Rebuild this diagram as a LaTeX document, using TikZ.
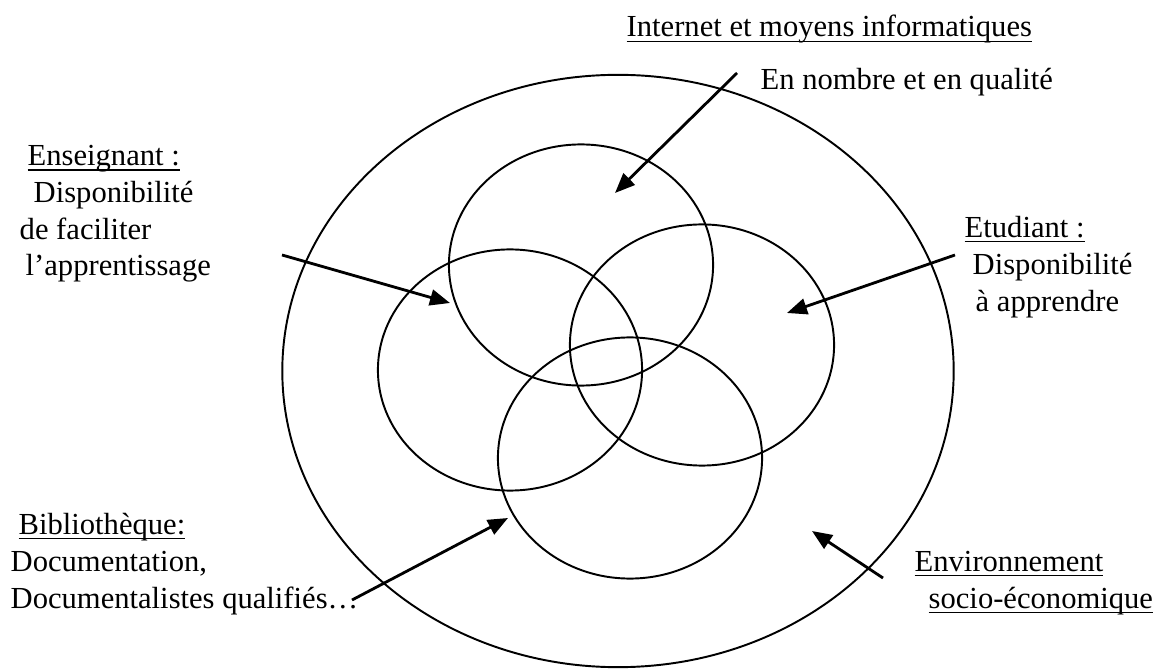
\documentclass[tikz,border=0pt]{standalone}
\usepackage{fontspec}
\setmainfont{Liberation Serif}
\newsavebox{\uwordbox}
\newcommand{\uword}[1]{\sbox{\uwordbox}{#1}\leavevmode\rlap{\rule[-1.5pt]{\wd\uwordbox}{0.4pt}}\usebox{\uwordbox}}
\usetikzlibrary{arrows.meta,shapes.geometric}
\tikzset{
  ring/.style={draw=black, ellipse, line width=0.55pt, inner sep=0pt, minimum width=2.64cm, minimum height=2.41cm},
  outerring/.style={ring, minimum width=6.71cm, minimum height=5.92cm},
  note/.style={align=left, inner sep=0pt, anchor=base west, font=\fontsize{8.7}{10.5}\selectfont},
  arrow/.style={-{Triangle[length=2mm,width=1.6mm]}, line width=0.8pt}
}
\begin{document}
\begin{tikzpicture}[x=0.01cm, y=-0.01cm]
  \useasboundingbox (0,0) rectangle (1163,670);
  \node[outerring] (env) at (618,371) {};
  \node[ring] (internet) at (581,265) {};
  \node[ring] (teacher) at (510,370) {};
  \node[ring] (student) at (702,345) {};
  \node[ring] (library) at (630,458) {};
  \node[note] (nettitle) at (626,37) {\uword{Internet et moyens informatiques}};
  \node[note] (nettext) at (760,90) {En nombre et en qualité};
  \node[note] (teachertext) at (19,276) {\hspace*{0.8mm}\uword{Enseignant :}\\\hspace*{1.4mm}Disponibilité\\de faciliter\\\hspace*{0.6mm}l’apprentissage};
  \node[note] (studenttext) at (964,311) {\uword{Etudiant :}\\\hspace*{0.8mm}Disponibilité\\\hspace*{1.1mm}à apprendre};
  \node[note] (librarytext) at (10,608) {\hspace*{0.8mm}\uword{Bibliothèque:}\\Documentation,\\Documentalistes qualifiés…};
  \node[note] (envtext) at (914,608) {\uword{Environnement}\\\hspace*{1.4mm}\uword{socio-économique}};
  \coordinate (netfrom) at (737,73);
  \coordinate (netto) at (615,193);
  \coordinate (teacherfrom) at (282,255);
  \coordinate (teacherto) at (450,303);
  \coordinate (studentfrom) at (955,255);
  \coordinate (studentto) at (787,313);
  \coordinate (libraryfrom) at (352,600);
  \coordinate (libraryto) at (508,518);
  \coordinate (envfrom) at (883,578);
  \coordinate (envto) at (812,531);
  \draw[arrow] (netfrom) -- (netto);
  \draw[arrow] (teacherfrom) -- (teacherto);
  \draw[arrow] (studentfrom) -- (studentto);
  \draw[arrow] (libraryfrom) -- (libraryto);
  \draw[arrow] (envfrom) -- (envto);
\end{tikzpicture}
\end{document}
